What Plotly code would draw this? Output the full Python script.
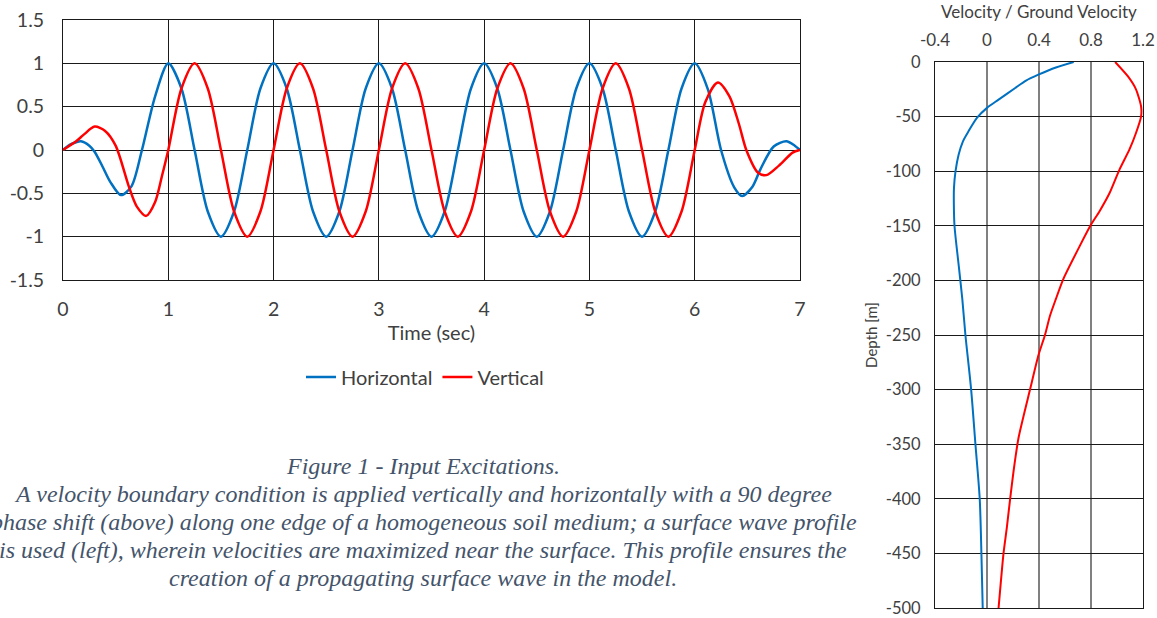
import plotly.graph_objects as go

# ---------------- Data: input excitations (time series) ----------------
t_horizontal = [0, 0.0625, 0.125, 0.17, 0.25, 0.3, 0.375, 0.45, 0.55, 0.65, 0.75, 0.875,
                1.0, 1.125, 1.25, 1.375, 1.5, 1.625, 1.75, 1.875,
                2.0, 2.125, 2.25, 2.375, 2.5, 2.625, 2.75, 2.875,
                3.0, 3.125, 3.25, 3.375, 3.5, 3.625, 3.75, 3.875,
                4.0, 4.125, 4.25, 4.375, 4.5, 4.625, 4.75, 4.875,
                5.0, 5.125, 5.25, 5.375, 5.5, 5.625, 5.75, 5.875,
                6.0, 6.125, 6.25, 6.375, 6.45, 6.55, 6.625, 6.75, 6.87, 6.95, 7.0]
horizontal = [0, 0.06, 0.09, 0.1, 0.05, -0.02, -0.19, -0.37, -0.52, -0.42, 0.0, 0.62,
              1.0, 0.71, 0.0, -0.71, -1.0, -0.71, 0.0, 0.71,
              1.0, 0.71, 0.0, -0.71, -1.0, -0.71, 0.0, 0.71,
              1.0, 0.71, 0.0, -0.71, -1.0, -0.71, 0.0, 0.71,
              1.0, 0.71, 0.0, -0.71, -1.0, -0.71, 0.0, 0.71,
              1.0, 0.71, 0.0, -0.71, -1.0, -0.71, 0.0, 0.71,
              1.0, 0.7, 0.0, -0.43, -0.53, -0.42, -0.22, 0.04, 0.1, 0.05, 0.0]

t_vertical = [0, 0.0625, 0.125, 0.2, 0.3, 0.4, 0.5, 0.625, 0.7, 0.79, 0.875, 0.94,
              1.0, 1.125, 1.25, 1.375, 1.5, 1.625, 1.75, 1.875,
              2.0, 2.125, 2.25, 2.375, 2.5, 2.625, 2.75, 2.875,
              3.0, 3.125, 3.25, 3.375, 3.5, 3.625, 3.75, 3.875,
              4.0, 4.125, 4.25, 4.375, 4.5, 4.625, 4.75, 4.875,
              5.0, 5.125, 5.25, 5.375, 5.5, 5.625, 5.75, 5.875,
              6.0, 6.1, 6.22, 6.33, 6.42, 6.49, 6.6, 6.68, 6.8, 6.93, 7.0]
vertical = [0, 0.05, 0.1, 0.18, 0.27, 0.22, 0.05, -0.42, -0.65, -0.76, -0.6, -0.3,
            0.0, 0.71, 1.0, 0.71, 0.0, -0.71, -1.0, -0.71,
            0.0, 0.71, 1.0, 0.71, 0.0, -0.71, -1.0, -0.71,
            0.0, 0.71, 1.0, 0.71, 0.0, -0.71, -1.0, -0.71,
            0.0, 0.71, 1.0, 0.71, 0.0, -0.71, -1.0, -0.71,
            0.0, 0.71, 1.0, 0.71, 0.0, -0.71, -1.0, -0.71,
            0.0, 0.55, 0.78, 0.62, 0.3, 0.0, -0.26, -0.29, -0.18, -0.03, 0.0]

# ---------------- Data: surface wave depth profile ----------------
depth_h = [0, -5, -11.6, -17, -23.8, -34.5, -42, -51, -63, -72.6, -84.8, -100, -115, -130,
           -150, -187, -217, -250, -300, -350, -400, -450, -500]
profile_h = [0.667, 0.53, 0.395, 0.3, 0.217, 0.089, 0.0, -0.076, -0.14, -0.185, -0.218, -0.242,
             -0.254, -0.255, -0.25, -0.217, -0.19, -0.166, -0.122, -0.089, -0.056, -0.043, -0.033]
depth_v = [0, -13, -25, -40.5, -50, -65, -80, -98.5, -120, -136.6, -150, -168.6,
           -199, -217, -232.6, -250, -268.8, -300, -344.5, -375, -400, -426, -450, -500]
profile_v = [0.986, 1.083, 1.146, 1.185, 1.185, 1.146, 1.096, 1.019, 0.943, 0.866, 0.795, 0.713,
             0.586, 0.53, 0.484, 0.446, 0.395, 0.331, 0.242, 0.204, 0.178, 0.153, 0.127, 0.089]

# ---------------- Tick labels ----------------
ts_xtick_vals = [0, 1, 2, 3, 4, 5, 6, 7]
ts_xtick_text = ["0", "1", "2", "3", "4", "5", "6", "7"]
ts_ytick_vals = [1.5, 1, 0.5, 0, -0.5, -1, -1.5]
ts_ytick_text = ["1.5", "1", "0.5", "0", "-0.5", "-1", "-1.5"]
pr_xtick_vals = [-0.4, 0, 0.4, 0.8, 1.2]
pr_xtick_text = ["-0.4", "0", "0.4", "0.8", "1.2"]
pr_dark_grid = [0.8]   # the one interior vertical gridline drawn black (others grey)
pr_ytick_vals = [0, -50, -100, -150, -200, -250, -300, -350, -400, -450, -500]
pr_ytick_text = ["0", "-50", "-100", "-150", "-200", "-250", "-300", "-350", "-400", "-450", "-500"]

caption_lines = [
    "Figure 1 - Input Excitations.",
    "A velocity boundary condition is applied vertically and horizontally with a 90 degree",
    "phase shift (above) along one edge of a homogeneous soil medium; a surface wave profile",
    "is used (left), wherein velocities are maximized near the surface. This profile ensures the",
    "creation of a propagating surface wave in the model.",
]

# ---------------- Styling ----------------
W, H = 1157, 618
BLUE = "#0070C0"
RED = "#FF0000"
GRID = "#1a1a1a"
GREY_GRID = "#808080"
TXT = "#404040"
FONT = "Lato, Calibri, 'Open Sans', sans-serif"
CAP_COLOR = "#44546A"

fig = go.Figure()

fig.add_trace(go.Scatter(x=t_horizontal, y=horizontal, mode="lines", name="Horizontal",
                         line=dict(color=BLUE, width=2.5, shape="spline", smoothing=0.8),
                         xaxis="x", yaxis="y"))
fig.add_trace(go.Scatter(x=t_vertical, y=vertical, mode="lines", name="Vertical",
                         line=dict(color=RED, width=2.5, shape="spline", smoothing=0.8),
                         xaxis="x", yaxis="y"))
fig.add_trace(go.Scatter(x=profile_h, y=depth_h, mode="lines", showlegend=False,
                         line=dict(color=BLUE, width=2, shape="spline", smoothing=0.8),
                         xaxis="x2", yaxis="y2"))
fig.add_trace(go.Scatter(x=profile_v, y=depth_v, mode="lines", showlegend=False,
                         line=dict(color=RED, width=2, shape="spline", smoothing=0.6),
                         xaxis="x2", yaxis="y2"))

axis_common = dict(showgrid=True, gridcolor=GRID, gridwidth=1, zeroline=False,
                   showline=True, linecolor=GRID, linewidth=1, mirror=True,
                   ticks="", automargin=False, fixedrange=True, ticklabeloverflow="allow")

fig.update_layout(
    width=W, height=H,
    margin=dict(l=0, r=0, t=0, b=0),
    paper_bgcolor="white", plot_bgcolor="white",
    font=dict(family=FONT, color=TXT),
    showlegend=True,
    legend=dict(orientation="h", x=425 / W, xanchor="center", y=1 - 377 / H, yanchor="middle",
                font=dict(size=20, color=TXT, family=FONT), bgcolor="rgba(0,0,0,0)",
                itemwidth=30),
    xaxis=dict(axis_common, domain=[63 / W, 800 / W], range=[0, 7], anchor="y",
               tickvals=ts_xtick_vals, ticktext=ts_xtick_text,
               tickfont=dict(size=19.5, color=TXT), ticklabelstandoff=12,
               title=dict(text="Time (sec)", font=dict(size=20, color=TXT), standoff=6)),
    yaxis=dict(axis_common, domain=[1 - 280 / H, 1 - 20 / H], range=[-1.5, 1.5], anchor="x",
               tickvals=ts_ytick_vals, ticktext=ts_ytick_text,
               tickfont=dict(size=19.5, color=TXT), ticklabelstandoff=14),
    xaxis2=dict(axis_common, domain=[935 / W, 1143 / W], range=[-0.4, 1.2], anchor="y2",
                side="top", tickvals=pr_xtick_vals, ticktext=pr_xtick_text,
                gridcolor=GREY_GRID, gridwidth=1.5,
                tickfont=dict(size=17, color=TXT), ticklabelstandoff=8,
                title=dict(text="Velocity / Ground Velocity", font=dict(size=17, color=TXT), standoff=6)),
    yaxis2=dict(axis_common, domain=[1 - 608 / H, 1 - 62 / H], range=[-500, 0], anchor="x2",
                tickvals=pr_ytick_vals, ticktext=pr_ytick_text,
                tickfont=dict(size=16.5, color=TXT), ticklabelstandoff=10,
                title=dict(text="Depth [m]", font=dict(size=15, color=TXT), standoff=4)),
)

for gx in pr_dark_grid:
    fig.add_shape(type="line", xref="x2", yref="y2 domain", x0=gx, x1=gx, y0=0, y1=1,
                  line=dict(color=GRID, width=1), layer="below")

cap_y = [466, 494, 522, 550, 578]
for line, yy in zip(caption_lines, cap_y):
    fig.add_annotation(text="<i>" + line + "</i>", xref="paper", yref="paper",
                       x=423 / W, y=1 - yy / H, xanchor="center", yanchor="middle",
                       showarrow=False,
                       font=dict(family="'Liberation Serif', 'Times New Roman', serif",
                                 size=24, color=CAP_COLOR))

fig.write_html("out.html")
